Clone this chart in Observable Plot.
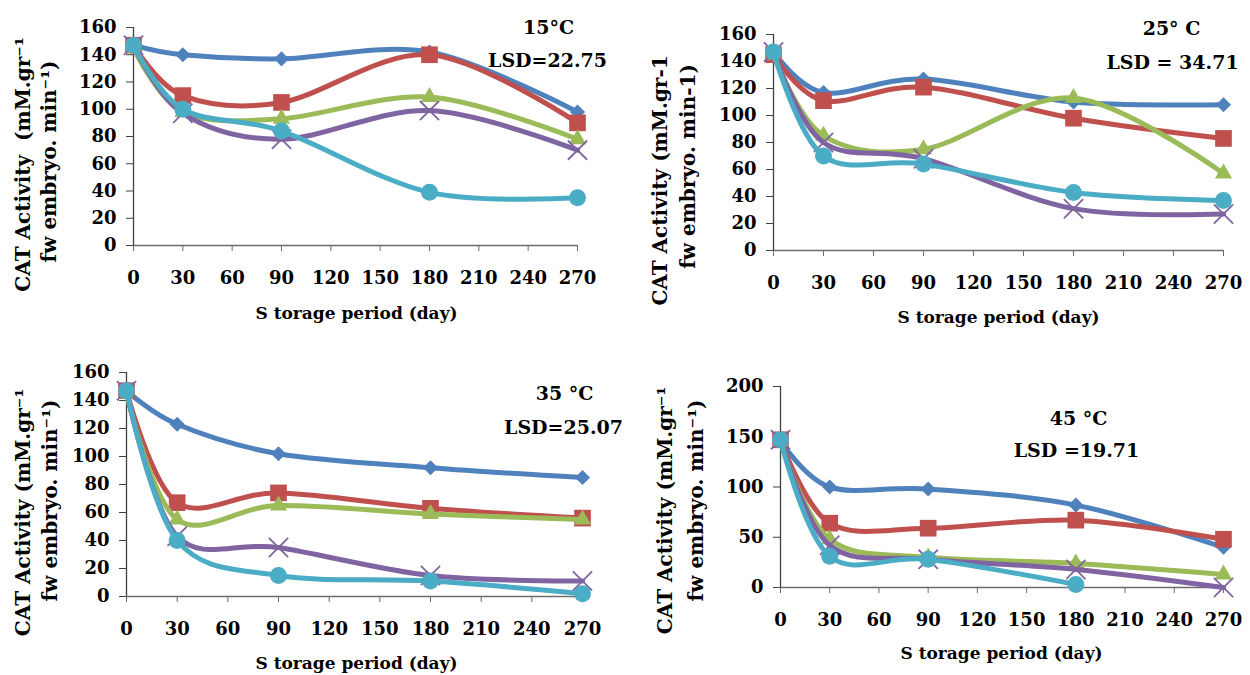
<!DOCTYPE html>
<html><head><meta charset="utf-8">
<script src="https://cdn.jsdelivr.net/npm/d3@7"></script>
<script src="https://cdn.jsdelivr.net/npm/@observablehq/plot@0.6"></script>
<style>
body{margin:0;background:#fff;}
#root{position:relative;width:1250px;height:675px;background:#fff;overflow:hidden;}
#root > svg{position:absolute;}
</style></head><body><div id="root"></div>
<script>
// ---------- data ----------
const days = [0, 30, 90, 180, 270];
const xTicks = [0, 30, 60, 90, 120, 150, 180, 210, 240, 270];
const yTicks160 = [0, 20, 40, 60, 80, 100, 120, 140, 160];
const yTicks200 = [0, 50, 100, 150, 200];
const seriesNames = ["S1", "S2", "S3", "S4", "S5"];
const seriesColors = ["#4F81BD", "#C0504D", "#9BBB59", "#8064A2", "#4BACC6"];

// CAT activity per storage day, one row per series (blue, red, green, purple, cyan)
const cat15 = [
  [147, 140, 137, 142, 98],
  [147, 110, 105, 140, 90],
  [145, 98, 93, 109, 78],
  [147, 97, 78, 99, 70],
  [147, 100, 84, 39, 35]
];
const cat25 = [
  [147, 117, 127, 110, 108],
  [145, 111, 121, 98, 83],
  [145, 85, 75, 113, 57],
  [147, 80, 68, 31, 27],
  [147, 70, 64, 43, 37]
];
const cat35 = [
  [147, 123, 102, 92, 85],
  [147, 67, 74, 63, 56],
  [145, 55, 65, 59, 55],
  [147, 43, 35, 15, 11],
  [147, 40, 15, 11, 2]
];
const cat45 = [
  [146, 100, 98, 82, 40],
  [147, 64, 59, 67, 48],
  [145, 48, 30, 24, 13],
  [147, 42, 28, 18, 0],
  [147, 31, 28, 3, null]
];

const tempLabels = ["15\u00B0C", "25\u00B0 C", "35 \u00B0C", "45 \u00B0C"];
const lsdLabels = ["LSD=22.75", "LSD = 34.71", "LSD=25.07", "LSD =19.71"];
const yLabelLine1 = ["CAT Activity  (mM.gr\u207B\u00B9", "CAT Activity (mM.gr-1", "CAT Activity (mM.gr\u207B\u00B9", "CAT Activity (mM.gr\u207B\u00B9"];
const yLabelLine2 = ["fw embryo. min\u207B\u00B9)", "fw embryo. min-1)", "fw embryo. min\u207B\u00B9)", "fw embryo. min\u207B\u00B9)"];
const xLabel = "S torage period (day)";

// ---------- layout / style ----------
const FONT = "'DejaVu Serif', 'Liberation Serif', serif";
const markerSpec = [
  {symbol: "diamond2", r: 6.8, filled: true},
  {symbol: "square", r: 9.4, filled: true},
  {symbol: "triangle", r: 6.4, filled: true},
  {symbol: "times", r: 8.8, filled: false},
  {symbol: "circle", r: 8.5, filled: true}
];
const panels = [
  {data: cat15, left: 0, top: 0, w: 625, h: 335, ml: 133, mr: 48, mt: 27, mb: 90, yMax: 160, yTicks: yTicks160,
   temp: [548, 27], lsd: [547, 60], yl1: [23, 164], yl2: [49, 161], xl: [356, 313]},
  {data: cat25, left: 625, top: 0, w: 625, h: 335, ml: 148, mr: 27, mt: 34, mb: 85, yMax: 160, yTicks: yTicks160,
   temp: [1171, 28], lsd: [1172, 62], yl1: [660, 180], yl2: [688, 166], xl: [998, 317]},
  {data: cat35, left: 0, top: 340, w: 625, h: 335, ml: 126, mr: 43, mt: 32, mb: 79, yMax: 160, yTicks: yTicks160,
   temp: [564, 393], lsd: [563, 427], yl1: [23, 512], yl2: [50, 500], xl: [356, 663]},
  {data: cat45, left: 625, top: 340, w: 625, h: 335, ml: 155, mr: 27, mt: 46, mb: 88, yMax: 200, yTicks: yTicks200,
   temp: [1078, 418], lsd: [1076, 450], yl1: [665, 510], yl2: [696, 500], xl: [1001, 653]}
];

const root = document.getElementById("root");

panels.forEach((p, pi) => {
  const ox = p.left + p.ml, oy = p.top + p.mt;
  const label = (txt, pos, opts = {}) => Plot.text([txt], {
    text: d => d, frameAnchor: "top-left", dx: pos[0] - ox, dy: pos[1] - oy,
    textAnchor: "middle", lineAnchor: "middle", fill: "black", fontWeight: "bold", ...opts
  });
  const marks = [
    Plot.ruleY([0], {stroke: "#6b6b6b", strokeWidth: 1.3}),
    Plot.ruleX([0], {stroke: "#404040", strokeWidth: 1.3}),
    Plot.axisX({ticks: xTicks, tickSize: 6, tickPadding: 20, stroke: "#6b6b6b", fontSize: 18, fontWeight: "bold", label: null, tickFormat: d => d}),
    Plot.axisY({ticks: p.yTicks, tickSize: 7, tickPadding: 10, stroke: "#404040", fontSize: 18, fontWeight: "bold", label: null, tickFormat: d => d})
  ];
  p.data.forEach((vals, si) => {
    const rows = days.map((d, j) => ({series: seriesNames[si], day: d, v: vals[j]})).filter(r => r.v != null);
    const m = markerSpec[si];
    marks.push(Plot.line(rows, {x: "day", y: "v", stroke: seriesColors[si], strokeWidth: 5, curve: "cardinal"}));
    marks.push(Plot.dot(rows, m.filled
      ? {x: "day", y: "v", symbol: m.symbol, r: m.r, fill: seriesColors[si], stroke: "none"}
      : {x: "day", y: "v", symbol: m.symbol, r: m.r, fill: "none", stroke: seriesColors[si], strokeWidth: 1.8}));
  });
  marks.push(label(tempLabels[pi], p.temp, {fontSize: 19}));
  marks.push(label(lsdLabels[pi], p.lsd, {fontSize: 19}));
  marks.push(label(yLabelLine1[pi], p.yl1, {fontSize: 20, rotate: -90}));
  marks.push(label(yLabelLine2[pi], p.yl2, {fontSize: 20, rotate: -90}));
  marks.push(label(xLabel, p.xl, {fontSize: 17}));

  const svg = Plot.plot({
    width: p.w, height: p.h,
    marginLeft: p.ml, marginRight: p.mr, marginTop: p.mt, marginBottom: p.mb,
    x: {domain: [0, 270]},
    y: {domain: [0, p.yMax]},
    style: {fontFamily: FONT, fontSize: "17px", color: "black", background: "transparent", overflow: "visible"},
    marks
  });
  svg.style.left = p.left + "px";
  svg.style.top = p.top + "px";
  root.appendChild(svg);
});
</script>
</body></html>
